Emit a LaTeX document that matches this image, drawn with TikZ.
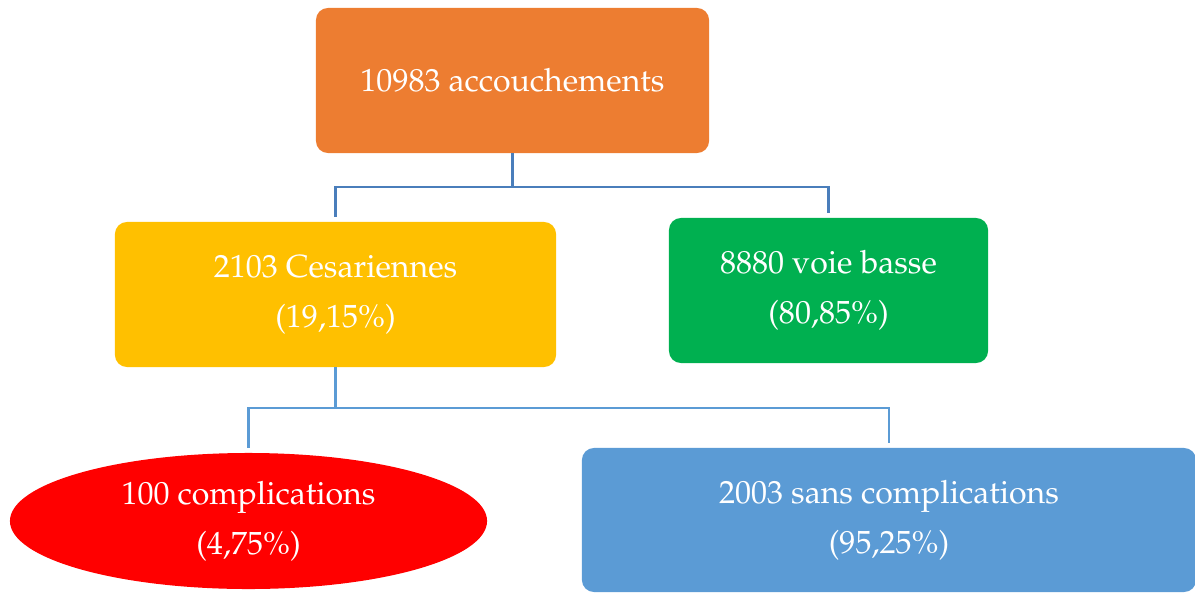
\documentclass[tikz,border=0pt]{standalone}
\usepackage[T1]{fontenc}
\usepackage{mathpazo}
\usetikzlibrary{shapes.geometric}
\definecolor{boxorange}{HTML}{ED7D31}
\definecolor{boxyellow}{HTML}{FFC000}
\definecolor{boxgreen}{HTML}{00B050}
\definecolor{boxred}{HTML}{FF0000}
\definecolor{boxblue}{HTML}{5B9BD5}
\definecolor{linkdark}{HTML}{4A7EBB}
\begin{document}
\begin{tikzpicture}[x=0.025cm,y=-0.025cm,
	tbox/.style={rounded corners=0.3cm, inner sep=0pt, align=center, text=white,
		font=\fontsize{22.8}{35.5}\selectfont},
	link/.style={line width=1.8pt, shorten >=3pt}]
\useasboundingbox (0,0) rectangle (1195,592);
% Total
\node[tbox, fill=boxorange, minimum width=9.825cm, minimum height=3.625cm] (acc) at (512.5,80.5) {10983 accouchements};
% Cesariennes / voie basse
\node[tbox, fill=boxyellow, minimum width=11.025cm, minimum height=3.625cm] (ces) at (335.5,294.5) {2103 Cesariennes\\(19,15\%)};
\node[tbox, fill=boxgreen, minimum width=7.975cm, minimum height=3.625cm] (vb) at (828.5,290.5) {8880 voie basse\\(80,85\%)};
% Complications
\node[ellipse, fill=boxred, inner sep=0pt, align=center, text=white,
	font=\fontsize{22.8}{35.5}\selectfont,
	minimum width=11.925cm, minimum height=3.4cm] (comp) at (248.5,521) {100 complications\\(4,75\%)};
\node[tbox, fill=boxblue, minimum width=15.35cm, minimum height=3.6cm] (sans) at (889,520) {2003 sans complications\\(95,25\%)};
% Links
\coordinate (j1) at (512,187);
\coordinate (j2) at (335,408);
\draw[link, linkdark] (acc.south) -- (acc.south |- j1) -| (ces.north);
\draw[link, linkdark] (acc.south |- j1) -| (vb.north);
\draw[link, boxblue] (ces.south) -- (ces.south |- j2) -| (comp.north);
\draw[link, boxblue] (ces.south |- j2) -| (sans.north);
\end{tikzpicture}
\end{document}
